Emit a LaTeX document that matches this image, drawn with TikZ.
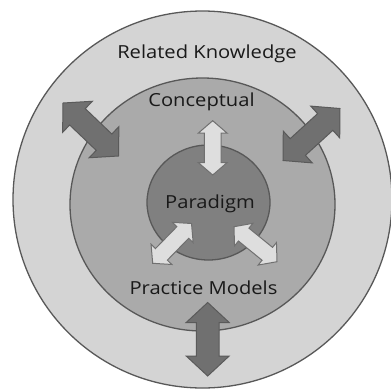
\documentclass[tikz,border=0pt]{standalone}
\usepackage{fontspec}
\setmainfont{Open Sans}[FakeStretch=1.12]
\usetikzlibrary{calc}

\definecolor{ringout}{RGB}{212,212,212}
\definecolor{ringmid}{RGB}{170,170,170}
\definecolor{ringin}{RGB}{128,128,128}
\definecolor{edge}{RGB}{88,88,88}
\definecolor{darkarrow}{RGB}{112,112,112}
\definecolor{darkedge}{RGB}{90,90,90}
\definecolor{lightarrow}{RGB}{222,222,222}
\definecolor{lightedge}{RGB}{112,112,112}

% Double-headed block arrow from #1 to #2:
% #3 half shaft width, #4 half head width, #5 head length, #6 style
\newcommand\blockarrow[6]{%
  \coordinate (ba1) at ($(#1)!#5!(#2)$);
  \coordinate (ba2) at ($(#2)!#5!(#1)$);
  \draw[#6] (#1) -- ($(ba1)!#4!90:(#2)$) -- ($(ba1)!#3!90:(#2)$)
    -- ($(ba2)!#3!-90:(#1)$) -- ($(ba2)!#4!-90:(#1)$) -- (#2)
    -- ($(ba2)!#4!90:(#1)$) -- ($(ba2)!#3!90:(#1)$)
    -- ($(ba1)!#3!-90:(#2)$) -- ($(ba1)!#4!-90:(#2)$) -- cycle;
}

\tikzset{
  ring/.style={draw=edge, line width=1.3bp},
  bigarrow/.style={fill=darkarrow, draw=darkedge, line width=1bp, line join=miter},
  smallarrow/.style={fill=lightarrow, draw=lightedge, line width=1bp, line join=miter},
  label/.style={font=\fontsize{18bp}{20bp}\selectfont, anchor=base, inner sep=0pt, text=black!90}
}

\begin{document}
\begin{tikzpicture}[x=1bp, y=-1bp]
  \useasboundingbox (0,0) rectangle (391,391);
  \fill[white] (0,0) rectangle (391,391);
  \clip (0,0) rectangle (391,391);

  % nested rings
  \draw[ring, fill=ringout] (202.5,199.5) ellipse [x radius=189.5bp, y radius=188.5bp];
  \draw[ring, fill=ringmid] (202.5,204.5) ellipse [x radius=132.5bp, y radius=126.5bp];
  \draw[ring, fill=ringin]  (208.5,202.5) ellipse [x radius=61.5bp, y radius=57.5bp];

  % arrow end points
  \coordinate (ulA) at (63,103);   \coordinate (ulB) at (118.5,156);
  \coordinate (urA) at (340,108.5); \coordinate (urB) at (283,160.5);
  \coordinate (bA)  at (207.7,302.5); \coordinate (bB) at (207.7,376);
  \coordinate (tA)  at (212.7,120.7); \coordinate (tB) at (212.7,175);
  \coordinate (llA) at (191.5,223.5); \coordinate (llB) at (152.7,263.3);
  \coordinate (lrA) at (234,226.7); \coordinate (lrB) at (277,261.7);

  % links between the rings
  \blockarrow{ulA}{ulB}{11.3bp}{21.5bp}{20bp}{bigarrow}
  \blockarrow{urA}{urB}{11.3bp}{21.5bp}{20bp}{bigarrow}
  \blockarrow{bA}{bB}{11.3bp}{21.5bp}{20bp}{bigarrow}
  \blockarrow{tA}{tB}{8.3bp}{14.5bp}{12.5bp}{smallarrow}
  \blockarrow{llA}{llB}{8.3bp}{14.5bp}{12.5bp}{smallarrow}
  \blockarrow{lrA}{lrB}{8.3bp}{14.5bp}{12.5bp}{smallarrow}

  % ring labels
  \node[label] (rk) at (207,58.3) {Related Knowledge};
  \node[label] (co) at (201.5,106.7) {Conceptual};
  \node[label] (pa) at (210,208.3) {Paradigm};
  \node[label] (pm) at (203.5,294) {Practice Models};
\end{tikzpicture}
\end{document}
